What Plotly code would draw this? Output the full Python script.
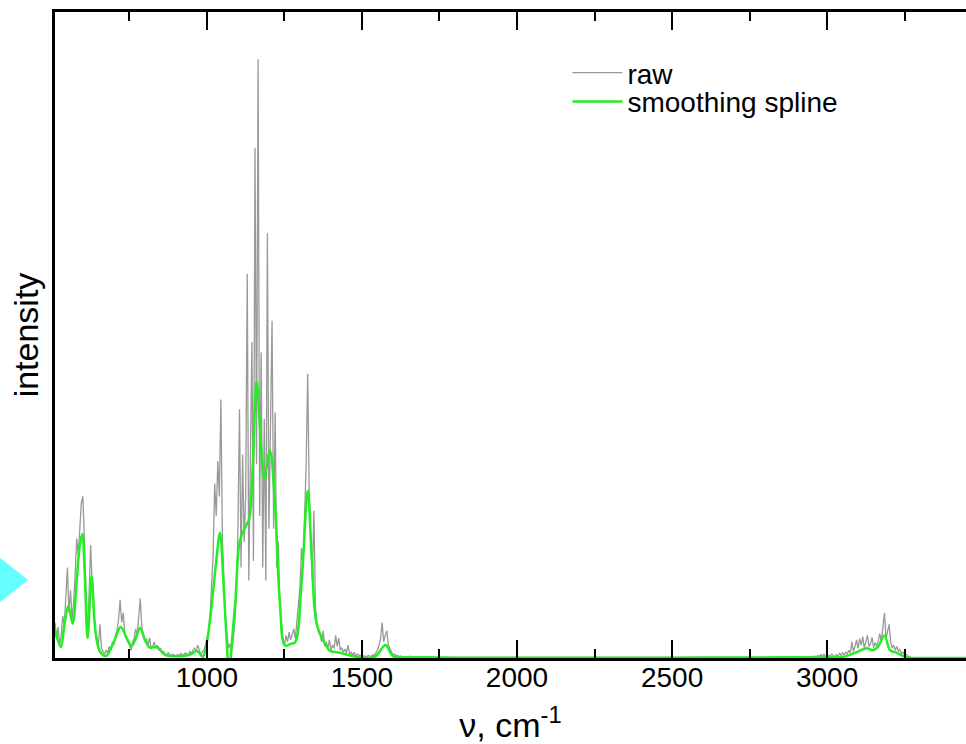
import plotly.graph_objects as go

# ---------------- data ----------------
# raw spectrum, dense part (510..1700 cm^-1, step 5)
raw_nu_main = list(range(510, 1705, 5))
raw_val_main = [
    5.5, 3.0, 4.8, 2.0, 3.5, 6.5, 5.0, 9.5, 14.0, 7.0,        # 510-555
    10.5, 6.0, 8.5, 13.0, 18.5, 16.0, 21.0, 24.0, 25.0, 17.0,  # 560-605
    9.0, 3.0, 10.0, 17.5, 11.0, 8.0, 4.0, 3.2, 2.0, 5.2,       # 610-655
    1.5, 1.0, 0.6, 1.2, 0.8, 1.8, 1.2, 2.5, 2.0, 3.5,          # 660-705
    4.2, 6.0, 9.0, 5.5, 7.0, 4.0, 3.0, 2.5, 2.0, 1.2,          # 710-755
    2.4, 3.0, 4.5, 3.5, 6.0, 9.2, 4.8, 3.5, 2.5, 3.0,          # 760-805
    2.0, 3.1, 1.5, 1.8, 2.5, 1.5, 2.0, 1.2, 1.5, 0.8,          # 810-855
    1.0, 0.6, 0.4, 0.8, 0.5, 0.3, 0.6, 0.4, 0.2, 0.5,          # 860-905
    0.3, 0.7, 0.5, 0.4, 0.8, 0.6, 0.5, 1.0, 0.7, 1.2,          # 910-955
    1.5, 1.0, 2.0, 1.3, 0.5, 0.9, 1.2, 2.0, 2.8, 4.0,          # 960-1005
    6.5, 12.0, 16.0, 27.0, 22.0, 30.5, 25.0, 40.0, 18.0, 12.0, # 1010-1055
    6.0, 3.5, 1.5, 2.2, 1.0, 3.0, 5.5, 10.0, 20.0, 38.5,       # 1060-1105
    14.0, 31.5, 18.0, 25.0, 59.5, 12.0, 28.0, 48.9, 15.0, 79.0,# 1110-1155
    30.0, 92.7, 22.0, 47.3, 14.0, 37.0, 12.0, 65.8, 20.0, 35.0,# 1160-1205
    52.2, 20.0, 38.0, 14.0, 18.0, 8.0, 5.0, 3.0, 2.0, 3.5,     # 1210-1255
    2.5, 4.0, 2.8, 3.5, 4.5, 3.0, 5.5, 8.0, 11.0, 17.0,        # 1260-1305
    14.0, 22.0, 30.0, 44.0, 25.0, 18.0, 12.0, 22.8, 8.0, 5.0,  # 1310-1355
    4.0, 3.5, 2.5, 4.2, 1.8, 2.5, 1.5, 2.8, 1.2, 2.0,          # 1360-1405
    1.5, 3.5, 1.8, 3.1, 1.2, 1.6, 0.9, 1.4, 0.8, 2.0,          # 1410-1455
    0.6, 0.9, 0.5, 0.8, 0.3, 0.6, 0.4, 0.3, 0.6, 0.2,          # 1460-1505
    0.3, 0.2, 0.4, 0.3, 0.2, 0.5, 0.4, 0.8, 1.2, 2.0,          # 1510-1555
    3.0, 5.5, 2.5, 3.5, 4.2, 2.0, 1.5, 0.8, 0.5, 0.6,          # 1560-1605
    0.3, 0.4, 0.2, 0.3, 0.1, 0.2, 0.1, 0.2, 0.1, 0.3,          # 1610-1655
    0.1, 0.2, 0.1, 0.1, 0.2, 0.1, 0.1, 0.1, 0.1,               # 1660-1700
]
# raw spectrum, sparse flat region
raw_nu_flat = [1720, 1750, 1780, 1820, 1870, 1920, 1980, 2050, 2150, 2250,
               2350, 2450, 2550, 2650, 2750, 2850, 2900, 2930]
raw_val_flat = [0.1, 0.05, 0.1, 0.05, 0.05, 0.1, 0.05, 0.05, 0.05, 0.05,
                0.05, 0.05, 0.05, 0.05, 0.05, 0.1, 0.2, 0.1]
# raw spectrum, C-H region (2960..3270, step 5)
raw_nu_ch = list(range(2960, 3275, 5))
raw_val_ch = [
    0.3, 0.1, 0.4, 0.2, 0.5, 0.3, 0.6, 0.2, 0.5, 0.4,   # 2960-3005
    0.3, 0.6, 0.4, 0.2, 0.5, 0.3, 0.7, 0.4, 0.8, 0.5,   # 3010-3055
    0.9, 0.6, 1.2, 0.8, 2.5, 1.0, 1.8, 2.8, 1.5, 3.0,   # 3060-3105
    2.0, 3.3, 1.5, 2.5, 3.5, 1.8, 2.2, 3.2, 1.6, 2.4,   # 3110-3155
    1.8, 2.6, 3.8, 2.5, 4.5, 7.0, 3.0, 4.0, 5.2, 2.5,   # 3160-3205
    1.5, 2.0, 1.2, 1.8, 1.0, 1.3, 0.7, 0.9, 0.4, 0.6,   # 3210-3255
    0.3, 0.2, 0.1,                                      # 3260-3270
]
raw_nu_end = [3300, 3350, 3400, 3450]
raw_val_end = [0.05, 0.0, 0.0, 0.0]

raw_nu = raw_nu_main + raw_nu_flat + raw_nu_ch + raw_nu_end
raw_val = raw_val_main + raw_val_flat + raw_val_ch + raw_val_end

# smoothing spline (knots)
spl_nu = [510, 515, 529, 540, 553, 567, 580, 590, 598, 606, 615, 628, 637, 644,
          655, 674, 700, 722, 740, 757, 770, 784, 800, 816, 838, 865, 900, 923,
          950, 967, 980, 987, 999, 1015, 1030, 1042, 1053, 1062, 1072, 1080,
          1092, 1106, 1123, 1136, 1147, 1160, 1172, 1185, 1203, 1219, 1235,
          1252, 1270, 1284, 1305, 1325, 1338, 1354, 1381, 1397, 1429, 1471,
          1515, 1545, 1576, 1600, 1650, 1700, 1800, 2000, 2500, 2900, 3000,
          3053, 3090, 3128, 3148, 3165, 3185, 3203, 3225, 3245, 3265, 3350, 3450]
spl_val = [4.5, 3.4, 1.7, 5.0, 8.1, 5.3, 12.0, 17.5, 19.2, 13.0, 3.1, 12.7, 6.0, 2.9,
           1.0, 0.3, 2.5, 4.8, 3.2, 1.9, 3.0, 4.7, 2.8, 1.6, 1.7, 0.5, 0.3, 0.3,
           0.6, 1.1, 0.5, 0.2, 2.2, 8.0, 15.0, 19.4, 11.9, 4.0, -2.5, 2.2,
           9.0, 18.1, 20.2, 21.5, 29.0, 42.8, 35.0, 27.7, 32.1, 24.3, 8.8,
           1.9, 2.2, 2.4, 11.5, 25.9, 15.6, 5.3, 2.2, 1.1, 0.8, 0.3,
           0.0, 0.3, 2.0, 0.3, 0.1, 0.1, 0.05, 0.05, 0.05, 0.1, 0.1,
           0.2, 0.8, 1.5, 1.2, 1.8, 3.5, 1.2, 0.8, 0.3, 0.05, 0.0, 0.0]

x_range = [510, 3448]
y_range = [0, 100]

FONT = "Liberation Sans, Arial, sans-serif"

fig = go.Figure()
fig.add_trace(go.Scatter(x=raw_nu, y=raw_val, mode="lines", name="raw",
                         line=dict(color="#999999", width=1.3),
                         showlegend=True, legend="legend"))
fig.add_trace(go.Scatter(x=spl_nu, y=spl_val, mode="lines", name="smoothing spline",
                         line=dict(color="#22ee22", width=2.5, shape="spline", smoothing=1.0),
                         showlegend=True, legend="legend2"))

# cyan triangle partly outside the left edge
fig.add_shape(type="path", xref="paper", yref="paper",
              path="M -0.0823 0.1796 L -0.0296 0.1207 L -0.0823 0.0619 Z",
              fillcolor="#66ffff", line=dict(width=0), layer="above")

fig.update_layout(
    width=966, height=744,
    margin=dict(l=55, r=0, t=12, b=86),
    paper_bgcolor="white", plot_bgcolor="white",
    font=dict(family=FONT, color="black"),
    showlegend=True,
    legend=dict(x=0.5625, y=0.9056, xanchor="left", yanchor="middle", visible=True,
                bgcolor="rgba(0,0,0,0)", font=dict(size=28), itemwidth=50),
    legend2=dict(x=0.5625, y=0.861, xanchor="left", yanchor="middle", visible=True,
                 bgcolor="rgba(0,0,0,0)", font=dict(size=28), itemwidth=50),
)
fig.update_xaxes(
    range=x_range, tickmode="linear", tick0=0, dtick=500,
    ticks="inside", ticklen=18, tickwidth=1.5, tickcolor="black",
    minor=dict(ticks="inside", ticklen=9, tickwidth=1.5, tickcolor="black",
               dtick=250, tick0=0, showgrid=False),
    showline=True, linewidth=3, linecolor="black", mirror="ticks",
    showgrid=False, zeroline=False,
    tickfont=dict(size=28, family=FONT, color="black"),
    ticklabelstandoff=-8,
    title=dict(text="ν, cm<sup>-1</sup>", font=dict(size=34, family=FONT), standoff=22),
    automargin=False,
)
fig.update_yaxes(
    range=y_range, showline=True, linewidth=3, linecolor="black", mirror=False,
    ticks="", showticklabels=False, showgrid=False, zeroline=False,
    title=dict(text="intensity", font=dict(size=34, family=FONT), standoff=4),
    automargin=False,
)

fig.write_html("out.html")
